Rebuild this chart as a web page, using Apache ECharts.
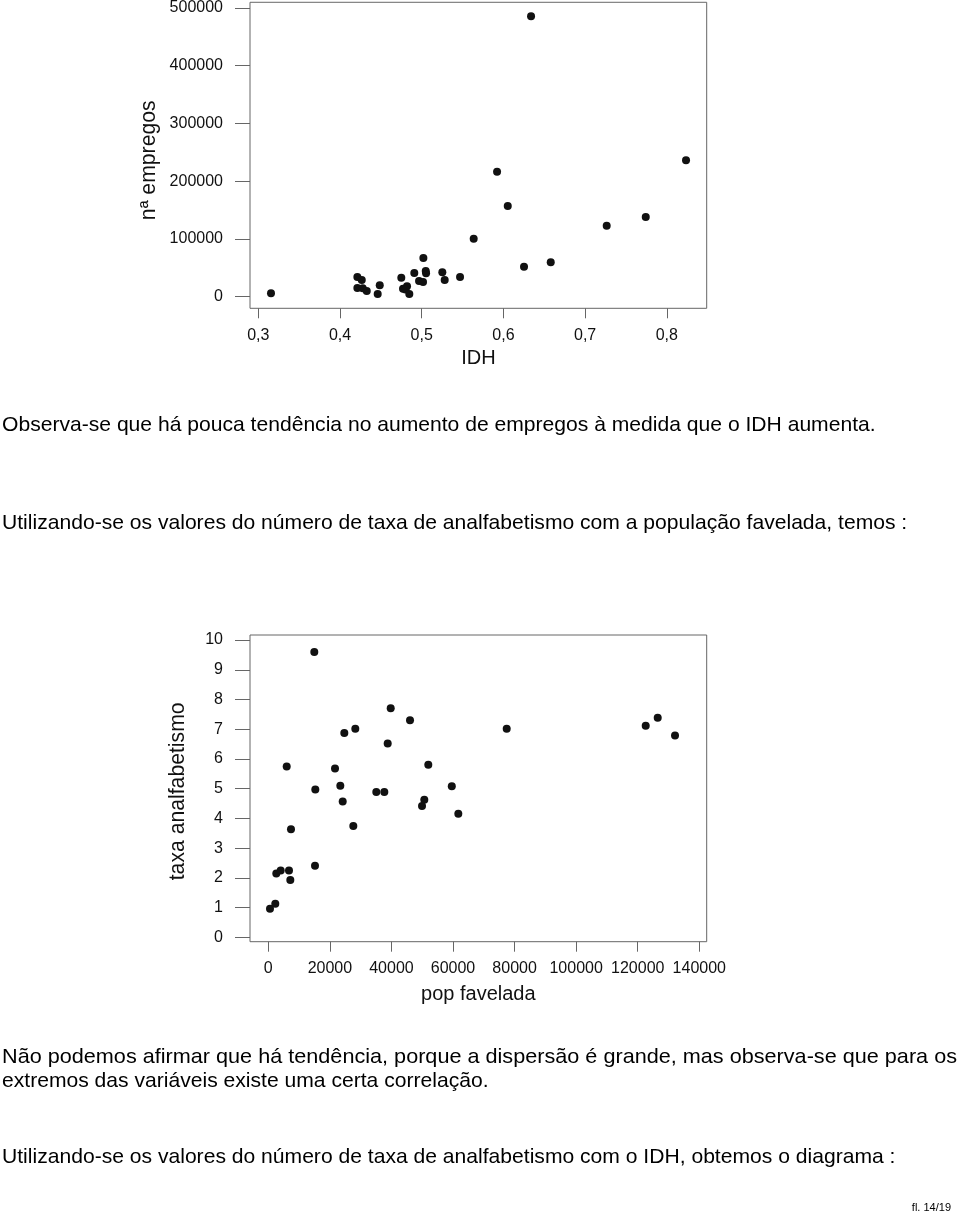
<!DOCTYPE html>
<html><head><meta charset="utf-8">
<script src="https://cdn.jsdelivr.net/npm/echarts@6/dist/echarts.min.js"></script>
<style>html,body{margin:0;padding:0;background:#fff}#c{width:960px;height:1215px}</style>
</head><body><div id="c"></div>
<script>
// ---- Chart 1: IDH x nº empregos ----
const idh = [0.3155,0.4212,0.4266,0.4212,0.4278,0.4327,0.4486,0.4461,0.4750,0.4909,0.5020,0.5049,0.5053,0.4967,0.5016,0.4771,0.4820,0.4801,0.4848,0.5252,0.5281,0.5469,0.5636,0.5922,0.6053,0.6252,0.6579,0.7264,0.7742,0.8235,0.6338];
const empregos = [5900,34100,28900,15000,14500,9900,19700,4700,32900,41000,67000,44500,40500,27200,25400,13800,18000,12500,4700,42200,28900,34100,100300,216200,156900,51900,59500,122800,137900,236500,485600];
const idhTicks = [0.3,0.4,0.5,0.6,0.7,0.8];
const empregosTicks = [0,100000,200000,300000,400000,500000];

// ---- Chart 2: pop favelada x taxa analfabetismo ----
const popFavelada = [14940,5980,15270,24690,28260,39760,46030,38780,21670,51970,23390,24170,35080,37680,50670,49930,59600,7370,27610,15170,2600,4030,6720,7150,550,2270,77440,122590,126490,132110,61720];
const taxaAnalfabetismo = [9.60,5.75,4.97,6.87,7.02,7.71,7.30,6.52,5.68,5.81,5.10,4.57,4.89,4.89,4.63,4.42,5.08,3.64,3.75,2.41,2.15,2.25,2.25,1.93,0.96,1.13,7.02,7.12,7.39,6.79,4.16];
const popTicks = [0,20000,40000,60000,80000,100000,120000,140000];
const taxaTicks = [0,1,2,3,4,5,6,7,8,9,10];

// ---- Texts ----
const paragraphs = [
  "Observa-se que há pouca tendência no aumento de empregos à medida que o IDH aumenta.",
  "Utilizando-se os valores do número de taxa de analfabetismo com a população favelada, temos :",
  "Não podemos afirmar que há tendência, porque a dispersão é grande, mas observa-se que para os",
  "extremos das variáveis existe uma certa correlação.",
  "Utilizando-se os valores do número de taxa de analfabetismo com o IDH, obtemos o diagrama :"
];
const paragraphY = [425, 523, 1057, 1081, 1157];
const justifyWidth = [0, 0, 955, 0, 0]; // first line of justified paragraph
const pageNote = "fl. 14/19";

const FONT = '"Liberation Sans", Arial, sans-serif';
const BODY_SIZE = 21.1;
const BOX = '#666';
const TXT = '#111';

function xAx(gridIndex, min, max, ticks, fmt, name, margin, gap) {
  return {
    type: 'value', gridIndex, min, max,
    axisLine: {show: false, onZero: false},
    splitLine: {show: false},
    axisTick: {show: true, length: 10, customValues: ticks, lineStyle: {color: BOX, width: 1}},
    axisLabel: {customValues: ticks, formatter: fmt, color: TXT, fontSize: 16, fontFamily: FONT, margin},
    name, nameLocation: 'middle', nameGap: gap,
    nameTextStyle: {fontSize: 20, fontFamily: FONT, color: TXT}
  };
}
function yAx(gridIndex, min, max, ticks, name, gap, shift) {
  return {
    type: 'value', gridIndex, min, max,
    axisLine: {show: false, onZero: false},
    splitLine: {show: false},
    axisTick: {show: true, length: 15, customValues: ticks, lineStyle: {color: BOX, width: 1}},
    axisLabel: {customValues: ticks, formatter: v => String(v), color: TXT, fontSize: 16, fontFamily: FONT, margin: 27},
    name, nameLocation: 'middle', nameGap: gap, nameRotate: 90,
    nameTextStyle: {fontSize: 21.2, fontFamily: FONT, color: TXT, padding: [0, shift, 0, 0]}
  };
}

const ctx = document.createElement('canvas').getContext('2d');
ctx.font = BODY_SIZE + 'px "Liberation Sans", Arial, sans-serif';
const graphics = paragraphs.map((t, i) => {
  const el = {
    type: 'text', x: 2, y: paragraphY[i],
    style: {text: t, fontSize: BODY_SIZE, fontFamily: FONT, fill: '#000', verticalAlign: 'middle', align: 'left'}
  };
  if (justifyWidth[i]) {
    const w = ctx.measureText(t).width;
    if (w > 0) el.scaleX = justifyWidth[i] / w;
  }
  return el;
});
graphics.push({type: 'text', x: 951, y: 1208,
  style: {text: pageNote, fontSize: 11, fontFamily: FONT, fill: '#000', verticalAlign: 'middle', align: 'right'}});

const chart = echarts.init(document.getElementById('c'), null, {renderer: 'canvas'});
chart.setOption({
  animation: false,
  backgroundColor: '#fff',
  grid: [
    {left: 250, top: 2, width: 456.7, height: 306.3, show: true, borderColor: BOX, borderWidth: 1, backgroundColor: 'transparent', containLabel: false},
    {left: 250, top: 635, width: 456.7, height: 306.7, show: true, borderColor: BOX, borderWidth: 1, backgroundColor: 'transparent', containLabel: false}
  ],
  xAxis: [
    xAx(0, 0.2898, 0.8488, idhTicks, v => v.toFixed(1).replace('.', ','), 'IDH', 19, 40),
    xAx(1, -5944, 142400, popTicks, v => String(v), 'pop favelada', 19, 43)
  ],
  yAxis: [
    yAx(0, -20070, 509900, empregosTicks, 'nª empregos', 90, 10),
    yAx(1, -0.145, 10.17, taxaTicks, 'taxa analfabetismo', 61, 6)
  ],
  series: [
    {type: 'scatter', xAxisIndex: 0, yAxisIndex: 0, symbolSize: 8,
     itemStyle: {color: '#111', opacity: 1},
     data: idh.map((v, i) => [v, empregos[i]])},
    {type: 'scatter', xAxisIndex: 1, yAxisIndex: 1, symbolSize: 8,
     itemStyle: {color: '#111', opacity: 1},
     data: popFavelada.map((v, i) => [v, taxaAnalfabetismo[i]])}
  ],
  graphic: graphics
});
</script></body></html>
